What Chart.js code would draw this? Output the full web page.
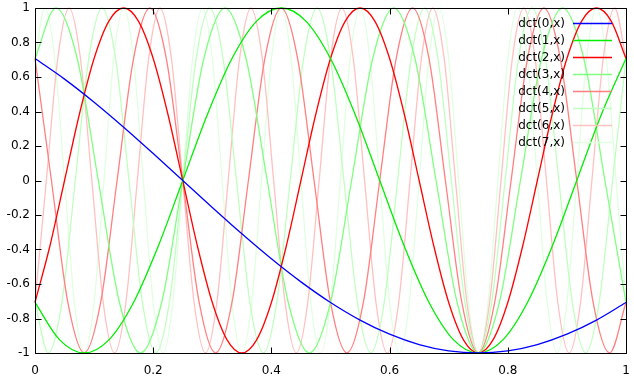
<!DOCTYPE html>
<html>
<head>
<meta charset="utf-8">
<script src="https://cdn.jsdelivr.net/npm/chart.js@4/dist/chart.umd.min.js"></script>
<style>
html,body{margin:0;padding:0;background:#fff;}
#c{display:block;}
</style>
</head>
<body>
<canvas id="c" width="634" height="380"></canvas>
<script>
// ---- data ----
const seriesLabels = ['dct(0,x)','dct(1,x)','dct(2,x)','dct(3,x)','dct(4,x)','dct(5,x)','dct(6,x)','dct(7,x)'];
const seriesColors = ['#0000ff','#00ee00','#ff0000','#80ff80','#ff8080','#c0ffc0','#ffc0c0','#e0ffe0'];

const xTickValues = [0,0.2,0.4,0.6,0.8,1];
const xTickLabels = ['0','0.2','0.4','0.6','0.8','1'];
const yTickValues = [-1,-0.8,-0.6,-0.4,-0.2,0,0.2,0.4,0.6,0.8,1];
const yTickLabels = ['-1','-0.8','-0.6','-0.4','-0.2','0','0.2','0.4','0.6','0.8','1'];

const xDct0 = [0,0.05,0.1,0.15,0.2,0.25,0.3,0.35,0.4,0.45,0.5,0.55,0.6,0.65,0.7,0.75,0.8,0.85,0.9,0.95,1];
const yDct0 = [0.7071,0.5878,0.4540,0.3090,0.1564,0,-0.1564,-0.3090,-0.4540,-0.5878,-0.7071,-0.8090,-0.8910,-0.9511,-0.9877,-1,-0.9877,-0.9511,-0.8910,-0.8090,-0.7071];

const xDct1 = [0,0.0417,0.0833,0.125,0.1667,0.2083,0.25,0.2917,0.3333,0.375,0.4167,0.4583,0.5,0.5417,0.5833,0.625,0.6667,0.7083,0.75,0.7917,0.8333,0.875,0.9167,0.9583,1];
const yDct1 = [-0.7071,-0.9239,-1,-0.9239,-0.7071,-0.3827,0,0.3827,0.7071,0.9239,1,0.9239,0.7071,0.3827,0,-0.3827,-0.7071,-0.9239,-1,-0.9239,-0.7071,-0.3827,0,0.3827,0.7071];

const xDct2 = [0,0.025,0.05,0.075,0.1,0.125,0.15,0.175,0.2,0.225,0.25,0.275,0.3,0.325,0.35,0.375,0.4,0.425,0.45,0.475,0.5,0.525,0.55,0.575,0.6,0.625,0.65,0.675,0.7,0.725,0.75,0.775,0.8,0.825,0.85,0.875,0.9,0.925,0.95,0.975,1];
const yDct2 = [-0.7071,-0.3827,0,0.3827,0.7071,0.9239,1,0.9239,0.7071,0.3827,0,-0.3827,-0.7071,-0.9239,-1,-0.9239,-0.7071,-0.3827,0,0.3827,0.7071,0.9239,1,0.9239,0.7071,0.3827,0,-0.3827,-0.7071,-0.9239,-1,-0.9239,-0.7071,-0.3827,0,0.3827,0.7071,0.9239,1,0.9239,0.7071];

const xDct3 = [0,0.0357,0.0714,0.1071,0.1429,0.1786,0.2143,0.25,0.2857,0.3214,0.3571,0.3929,0.4286,0.4643,0.5,0.5357,0.5714,0.6071,0.6429,0.6786,0.7143,0.75,0.7857,0.8214,0.8571,0.8929,0.9286,0.9643,1];
const yDct3 = [0.7071,1,0.7071,0,-0.7071,-1,-0.7071,0,0.7071,1,0.7071,0,-0.7071,-1,-0.7071,0,0.7071,1,0.7071,0,-0.7071,-1,-0.7071,0,0.7071,1,0.7071,0,-0.7071];

const xDct4 = [0,0.0278,0.0556,0.0833,0.1111,0.1389,0.1667,0.1944,0.2222,0.25,0.2778,0.3056,0.3333,0.3611,0.3889,0.4167,0.4444,0.4722,0.5,0.5278,0.5556,0.5833,0.6111,0.6389,0.6667,0.6944,0.7222,0.75,0.7778,0.8056,0.8333,0.8611,0.8889,0.9167,0.9444,0.9722,1];
const yDct4 = [0.7071,0,-0.7071,-1,-0.7071,0,0.7071,1,0.7071,0,-0.7071,-1,-0.7071,0,0.7071,1,0.7071,0,-0.7071,-1,-0.7071,0,0.7071,1,0.7071,0,-0.7071,-1,-0.7071,0,0.7071,1,0.7071,0,-0.7071,-1,-0.7071];

const xDct5 = [0,0.0227,0.0455,0.0682,0.0909,0.1136,0.1364,0.1591,0.1818,0.2045,0.2273,0.25,0.2727,0.2955,0.3182,0.3409,0.3636,0.3864,0.4091,0.4318,0.4545,0.4773,0.5,0.5227,0.5455,0.5682,0.5909,0.6136,0.6364,0.6591,0.6818,0.7045,0.7273,0.75,0.7727,0.7955,0.8182,0.8409,0.8636,0.8864,0.9091,0.9318,0.9545,0.9773,1];
const yDct5 = [-0.7071,-1,-0.7071,0,0.7071,1,0.7071,0,-0.7071,-1,-0.7071,0,0.7071,1,0.7071,0,-0.7071,-1,-0.7071,0,0.7071,1,0.7071,0,-0.7071,-1,-0.7071,0,0.7071,1,0.7071,0,-0.7071,-1,-0.7071,0,0.7071,1,0.7071,0,-0.7071,-1,-0.7071,0,0.7071];

const xDct6 = [0,0.0192,0.0385,0.0577,0.0769,0.0962,0.1154,0.1346,0.1538,0.1731,0.1923,0.2115,0.2308,0.25,0.2692,0.2885,0.3077,0.3269,0.3462,0.3654,0.3846,0.4038,0.4231,0.4423,0.4615,0.4808,0.5,0.5192,0.5385,0.5577,0.5769,0.5962,0.6154,0.6346,0.6538,0.6731,0.6923,0.7115,0.7308,0.75,0.7692,0.7885,0.8077,0.8269,0.8462,0.8654,0.8846,0.9038,0.9231,0.9423,0.9615,0.9808,1];
const yDct6 = [-0.7071,0,0.7071,1,0.7071,0,-0.7071,-1,-0.7071,0,0.7071,1,0.7071,0,-0.7071,-1,-0.7071,0,0.7071,1,0.7071,0,-0.7071,-1,-0.7071,0,0.7071,1,0.7071,0,-0.7071,-1,-0.7071,0,0.7071,1,0.7071,0,-0.7071,-1,-0.7071,0,0.7071,1,0.7071,0,-0.7071,-1,-0.7071,0,0.7071,1,0.7071];

const xDct7 = [0,0.0167,0.0333,0.05,0.0667,0.0833,0.1,0.1167,0.1333,0.15,0.1667,0.1833,0.2,0.2167,0.2333,0.25,0.2667,0.2833,0.3,0.3167,0.3333,0.35,0.3667,0.3833,0.4,0.4167,0.4333,0.45,0.4667,0.4833,0.5,0.5167,0.5333,0.55,0.5667,0.5833,0.6,0.6167,0.6333,0.65,0.6667,0.6833,0.7,0.7167,0.7333,0.75,0.7667,0.7833,0.8,0.8167,0.8333,0.85,0.8667,0.8833,0.9,0.9167,0.9333,0.95,0.9667,0.9833,1];
const yDct7 = [0.7071,1,0.7071,0,-0.7071,-1,-0.7071,0,0.7071,1,0.7071,0,-0.7071,-1,-0.7071,0,0.7071,1,0.7071,0,-0.7071,-1,-0.7071,0,0.7071,1,0.7071,0,-0.7071,-1,-0.7071,0,0.7071,1,0.7071,0,-0.7071,-1,-0.7071,0,0.7071,1,0.7071,0,-0.7071,-1,-0.7071,0,0.7071,1,0.7071,0,-0.7071,-1,-0.7071,0,0.7071,1,0.7071,0,-0.7071];

const allX = [xDct0,xDct1,xDct2,xDct3,xDct4,xDct5,xDct6,xDct7];
const allY = [yDct0,yDct1,yDct2,yDct3,yDct4,yDct5,yDct6,yDct7];

// ---- chart ----
const FONT = '12px "DejaVu Sans"';

const datasets = seriesLabels.map((lab, i) => ({
  label: lab,
  data: allX[i].map((x, j) => ({x: x, y: allY[i][j]})),
  borderColor: seriesColors[i],
  backgroundColor: seriesColors[i],
  borderWidth: 1.3,
  pointRadius: 0,
  fill: false,
  cubicInterpolationMode: 'monotone',
  clip: false
}));

const framePlugin = {
  id: 'frame',
  afterDatasetsDraw(chart) {
    const ctx = chart.ctx;
    const a = chart.chartArea;
    const xs = chart.scales.x, ys = chart.scales.y;
    ctx.save();
    ctx.strokeStyle = '#000';
    ctx.lineWidth = 1;
    const L = Math.round(a.left) + 0.5, R = Math.round(a.right) + 0.5;
    const T = Math.round(a.top) + 0.5, B = Math.round(a.bottom) + 0.5;
    ctx.beginPath();
    ctx.rect(L, T, R - L, B - T);
    ctx.stroke();
    const TL = 6;
    ctx.beginPath();
    xs.ticks.forEach(t => {
      const px = Math.round(xs.getPixelForValue(t.value)) + 0.5;
      ctx.moveTo(px, B); ctx.lineTo(px, B - TL);
      ctx.moveTo(px, T); ctx.lineTo(px, T + TL);
    });
    ys.ticks.forEach(t => {
      const py = Math.round(ys.getPixelForValue(t.value)) + 0.5;
      ctx.moveTo(L, py); ctx.lineTo(L + TL, py);
      ctx.moveTo(R, py); ctx.lineTo(R - TL, py);
    });
    ctx.stroke();

    // key (legend) in the top-right corner
    ctx.font = FONT;
    ctx.textAlign = 'right';
    ctx.textBaseline = 'middle';
    chart.data.datasets.forEach((ds, i) => {
      const y = 24 + 17 * i;
      ctx.fillStyle = '#000';
      ctx.fillText(ds.label, 565, y);
      ctx.strokeStyle = ds.borderColor;
      ctx.lineWidth = 1.3;
      ctx.beginPath();
      ctx.moveTo(573, y - 0.5);
      ctx.lineTo(612, y - 0.5);
      ctx.stroke();
    });
    ctx.restore();
  }
};

new Chart(document.getElementById('c'), {
  type: 'line',
  data: { datasets: datasets },
  options: {
    responsive: false,
    animation: false,
    devicePixelRatio: 1,
    layout: { padding: { top: 8, right: 8, left: 0, bottom: 0 } },
    plugins: { legend: { display: false }, tooltip: { enabled: false } },
    scales: {
      x: {
        type: 'linear',
        min: 0, max: 1,
        grid: { display: false, drawTicks: false },
        border: { display: false },
        afterBuildTicks: s => { s.ticks = xTickValues.map(v => ({value: v})); },
        afterFit: s => { s.height = 27; s.paddingLeft = 0; s.paddingRight = 0; },
        ticks: {
          color: '#000',
          font: { family: 'DejaVu Sans', size: 12 },
          padding: 11,
          maxRotation: 0,
          callback: (v, i) => xTickLabels[i]
        }
      },
      y: {
        type: 'linear',
        min: -1, max: 1,
        grid: { display: false, drawTicks: false },
        border: { display: false },
        afterBuildTicks: s => { s.ticks = yTickValues.map(v => ({value: v})); },
        afterFit: s => { s.width = 35; s.paddingTop = 0; s.paddingBottom = 0; },
        ticks: {
          color: '#000',
          font: { family: 'DejaVu Sans', size: 12 },
          padding: 5,
          callback: (v, i) => yTickLabels[i]
        }
      }
    }
  },
  plugins: [framePlugin]
});
</script>
</body>
</html>
